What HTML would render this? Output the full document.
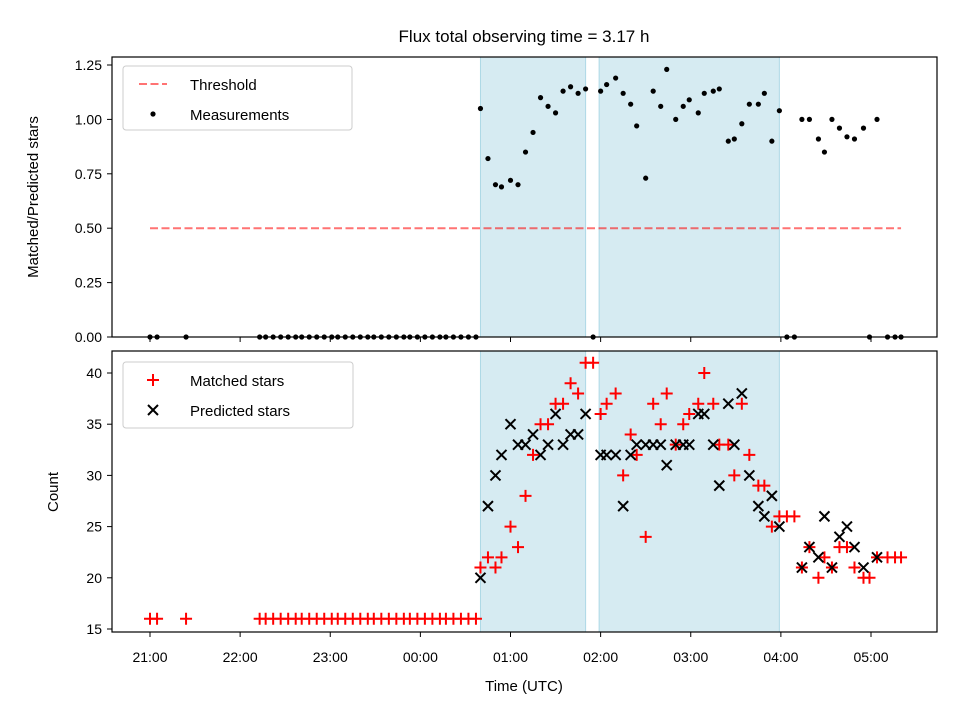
<!DOCTYPE html>
<html><head><meta charset="utf-8"><style>
body{margin:0;background:#fff}
text{font-family:"Liberation Sans","DejaVu Sans",sans-serif;fill:#000}
</style></head><body>
<svg id="chart" width="960" height="720" xmlns="http://www.w3.org/2000/svg"></svg>
<script>
// minutes after 21:00 UTC
const times = [0,4.7,24,73,77,82,87,92,97,101,106,111,116,121,125,130,135,140,145,149,154,159,164,169,173,178,183,188,193,197,202,207,212,217,
220,225,230,234,240,245,250,255,260,265,270,275,280,285,290,295,300,304,310,315,320,324,330,335,340,344,350,355,359,365,369,375,379,385,389,394,399,405,409,414,419,424,429,434,439,445,449,454,459,464,469,475,479,484,491,496,500];
const ratio = [0,0,0,0,0,0,0,0,0,0,0,0,0,0,0,0,0,0,0,0,0,0,0,0,0,0,0,0,0,0,0,0,0,0,
1.05,0.82,0.70,0.69,0.72,0.70,0.85,0.94,1.10,1.06,1.03,1.13,1.15,1.12,1.14,0,1.13,1.16,1.19,1.12,1.07,0.97,0.73,1.13,1.06,1.23,1.00,1.06,1.09,1.03,1.12,1.13,1.14,0.90,0.91,0.98,1.07,1.07,1.12,0.90,1.04,0,0,1.00,1.00,0.91,0.85,1.00,0.96,0.92,0.91,0.96,0,1.00,0,0,0];
const matched = [16,16,16,16,16,16,16,16,16,16,16,16,16,16,16,16,16,16,16,16,16,16,16,16,16,16,16,16,16,16,16,16,16,16,
21,22,21,22,25,23,28,32,35,35,37,37,39,38,41,41,36,37,38,30,34,32,24,37,35,38,33,35,36,37,40,37,33,33,30,37,32,29,29,25,26,26,26,21,23,20,22,21,23,23,21,20,20,22,22,22,22];
const predicted = [null,null,null,null,null,null,null,null,null,null,null,null,null,null,null,null,null,null,null,null,null,null,null,null,null,null,null,null,null,null,null,null,null,null,
20,27,30,32,35,33,33,34,32,33,36,33,34,34,36,null,32,32,32,27,32,33,33,33,33,31,33,33,33,36,36,33,29,37,33,38,30,27,26,28,25,null,null,21,23,22,26,21,24,25,23,21,null,22,null,null,null];
const xTicks = ["21:00","22:00","23:00","00:00","01:00","02:00","03:00","04:00","05:00"];
const topTicks = [0,0.25,0.5,0.75,1.0,1.25];
const botTicks = [15,20,25,30,35,40];
const spans = [[220,290],[299,419]];
const threshold = 0.5, thrStart = 0, thrEnd = 500;

const NS="http://www.w3.org/2000/svg", svg=document.getElementById('chart');
function el(t,a,p){const e=document.createElementNS(NS,t);for(const k in a)e.setAttribute(k,a[k]);(p||svg).appendChild(e);return e;}
const L=112,R=937;
const xs=m=>150+m*90.125/60;
const yTop=v=>337-v*217.6;
const yBot=v=>629-(v-15)*10.24;
const T={t:57,b:337}, B={t:351,b:632};

const t=el('text',{x:524,y:42,'font-size':17,'text-anchor':'middle'});t.textContent='Flux total observing time = 3.17 h';



[[T,'top'],[B,'bottom']].forEach(([ax,nm])=>{
  const g=el('g',{});
  
  
  spans.forEach(s=>{const r=el('rect',{x:xs(s[0]),y:ax.t,width:xs(s[1])-xs(s[0]),height:ax.b-ax.t,fill:'#add8e6','fill-opacity':0.5,stroke:'#add8e6'},g);
    
    });
  xTicks.forEach((lb,i)=>{const x=xs(i*60);el('line',{x1:x,x2:x,y1:ax.b,y2:ax.b+5,stroke:'#000'},g);
    if(nm==='bottom'){const tx=el('text',{x:x,y:ax.b+30,'font-size':14,'text-anchor':'middle'},g);tx.textContent=lb;
      
      }});
  ax.g=g;
});
topTicks.forEach(v=>{const y=yTop(v);el('line',{x1:L-5,x2:L,y1:y,y2:y,stroke:'#000'});
  const tx=el('text',{x:L-10,y:y+5,'font-size':14,'text-anchor':'end'});tx.textContent=v.toFixed(2);
  
  });
botTicks.forEach(v=>{const y=yBot(v);el('line',{x1:L-5,x2:L,y1:y,y2:y,stroke:'#000'});
  const tx=el('text',{x:L-10,y:y+5,'font-size':14,'text-anchor':'end'});tx.textContent=v;
  
  });
const th=el('line',{x1:xs(thrStart),x2:xs(thrEnd),y1:yTop(threshold),y2:yTop(threshold),stroke:'#ff0000','stroke-opacity':0.55,'stroke-width':2,'stroke-dasharray':'8,3.5'});


times.forEach((m,i)=>{const c=el('circle',{cx:xs(m),cy:yTop(ratio[i]),r:2.6,fill:'#000'});
  
  });
times.forEach((m,i)=>{const x=xs(m),y=yBot(matched[i]);const p=el('path',{d:`M${x-6} ${y}H${x+6}M${x} ${y-6}V${y+6}`,stroke:'#ff0000','stroke-width':2});
  
  });
times.forEach((m,i)=>{if(predicted[i]==null)return;const x=xs(m),y=yBot(predicted[i]);const p=el('path',{d:`M${x-5} ${y-5}L${x+5} ${y+5}M${x-5} ${y+5}L${x+5} ${y-5}`,stroke:'#000','stroke-width':2});
  
  });
[T,B].forEach(ax=>{const r=el('rect',{x:L,y:ax.t,width:R-L,height:ax.b-ax.t,fill:'none',stroke:'#000','stroke-width':1.2});
  
  });
let a=el('text',{x:38,y:197,'font-size':15,'text-anchor':'middle',transform:'rotate(-90 38 197)'});a.textContent='Matched/Predicted stars';


a=el('text',{x:58,y:492,'font-size':15,'text-anchor':'middle',transform:'rotate(-90 58 492)'});a.textContent='Count';


a=el('text',{x:524,y:691,'font-size':15,'text-anchor':'middle'});a.textContent='Time (UTC)';


function legend(x,y,w,h,items,name){const g=el('g',{});
  
  
  el('rect',{x,y,width:w,height:h,rx:3,fill:'#fff','fill-opacity':0.85,stroke:'#ccc'},g);
  items.forEach((it,i)=>{const cy=y+18+i*30;it.draw(g,x+30,cy);const tx=el('text',{x:x+67,y:cy+6,'font-size':15},g);tx.textContent=it.label;
    
    });}
legend(123,66,229,64,[
 {label:'Threshold',draw:(g,x,y)=>el('line',{x1:x-14,x2:x+14,y1:y,y2:y,stroke:'#ff0000','stroke-opacity':0.55,'stroke-width':2,'stroke-dasharray':'8,3.5'},g)},
 {label:'Measurements',draw:(g,x,y)=>el('circle',{cx:x,cy:y,r:2.6,fill:'#000'},g)}],'top-legend');
legend(123,362,230,66,[
 {label:'Matched stars',draw:(g,x,y)=>el('path',{d:`M${x-6} ${y}H${x+6}M${x} ${y-6}V${y+6}`,stroke:'#ff0000','stroke-width':2},g)},
 {label:'Predicted stars',draw:(g,x,y)=>el('path',{d:`M${x-5} ${y-5}L${x+5} ${y+5}M${x-5} ${y+5}L${x+5} ${y-5}`,stroke:'#000','stroke-width':2},g)}],'bottom-legend');
</script>
</body></html>
